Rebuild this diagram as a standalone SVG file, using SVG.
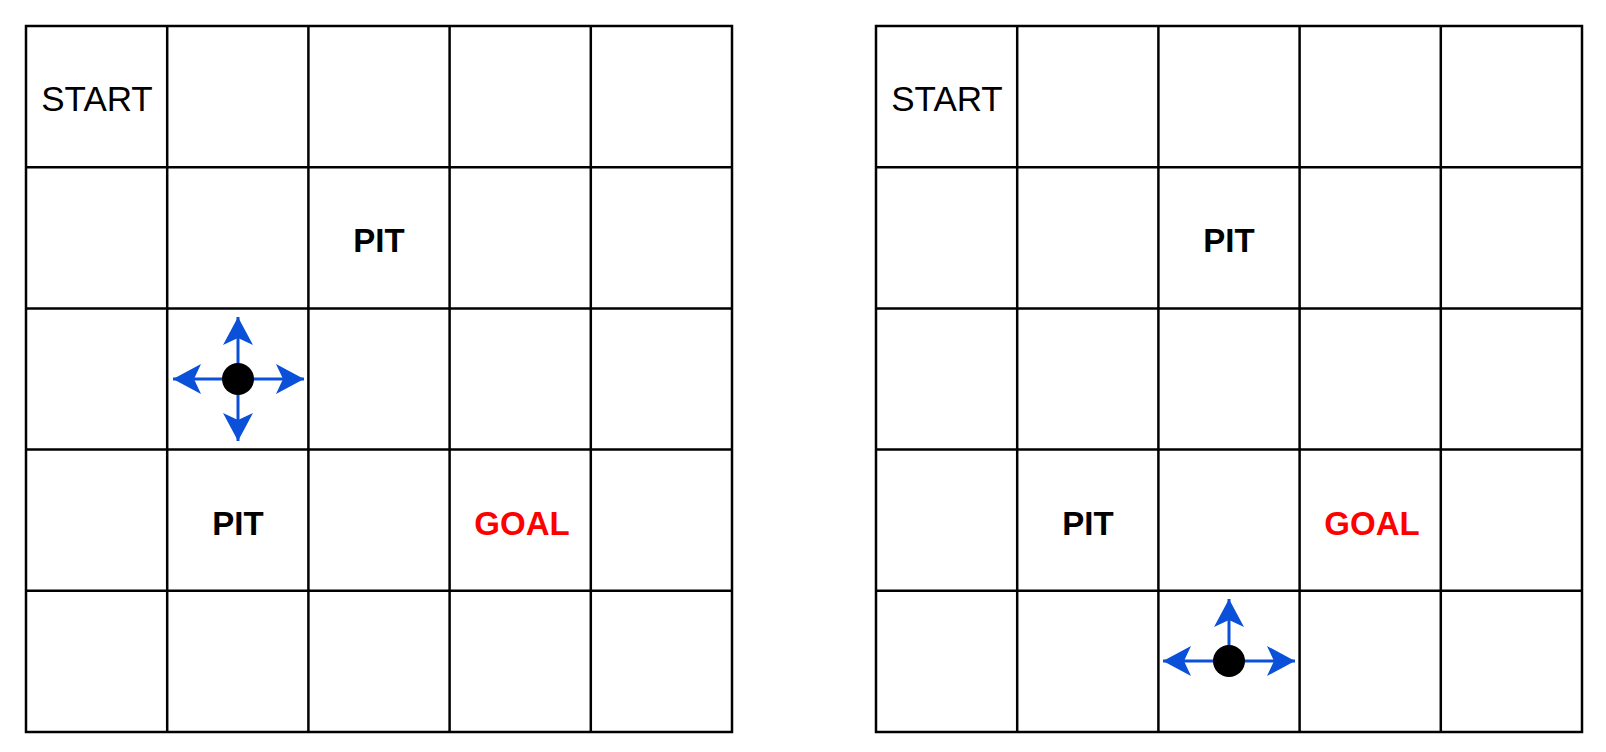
<svg xmlns="http://www.w3.org/2000/svg" width="1606" height="752" viewBox="0 0 1606 752">
<defs>
<style>
.grid line, .grid rect { stroke: #000; stroke-width: 2.5; fill: none; }
.t { font-family: "Liberation Sans", Arial, sans-serif; text-anchor: middle; }
.start { font-size: 35px; fill: #000; }
.pit { font-size: 33px; font-weight: bold; fill: #000; }
.goal { font-size: 33px; font-weight: bold; fill: #ff0000; }
.arr { stroke: #0a50d8; stroke-width: 3; fill: none; }
.dot { fill: #000; }
</style>
<marker id="ah" viewBox="0 0 30 32" markerWidth="30" markerHeight="32" refX="28" refY="16" orient="auto" markerUnits="userSpaceOnUse">
<path d="M28,16 L0,1 L7,16 L0,31 Z" fill="#0a50d8"/>
</marker>
<g id="gridTpl" class="grid">
<rect x="0" y="0" width="706" height="706"/>
<line x1="141.2" y1="0" x2="141.2" y2="706"/>
<line x1="282.4" y1="0" x2="282.4" y2="706"/>
<line x1="423.6" y1="0" x2="423.6" y2="706"/>
<line x1="564.8" y1="0" x2="564.8" y2="706"/>
<line x1="0" y1="141.2" x2="706" y2="141.2"/>
<line x1="0" y1="282.4" x2="706" y2="282.4"/>
<line x1="0" y1="423.6" x2="706" y2="423.6"/>
<line x1="0" y1="564.8" x2="706" y2="564.8"/>
</g>
</defs>
<rect width="1606" height="752" fill="#fff"/>
<g id="grid-left">
<use href="#gridTpl" x="26" y="26"/>
<text class="t start" x="97" y="111">START</text>
<text class="t pit" x="379" y="252">PIT</text>
<text class="t pit" x="238" y="535">PIT</text>
<text class="t goal" x="522" y="535">GOAL</text>
</g>
<g id="grid-right">
<use href="#gridTpl" x="876" y="26"/>
<text class="t start" x="947" y="111">START</text>
<text class="t pit" x="1229" y="252">PIT</text>
<text class="t pit" x="1088" y="535">PIT</text>
<text class="t goal" x="1372" y="535">GOAL</text>
</g>
<g id="connectors">
<line class="arr" x1="238" y1="379" x2="238" y2="317" marker-end="url(#ah)"/>
<line class="arr" x1="238" y1="379" x2="238" y2="441" marker-end="url(#ah)"/>
<line class="arr" x1="238" y1="379" x2="173" y2="379" marker-end="url(#ah)"/>
<line class="arr" x1="238" y1="379" x2="304" y2="379" marker-end="url(#ah)"/>
<line class="arr" x1="1229" y1="661" x2="1229" y2="599" marker-end="url(#ah)"/>
<line class="arr" x1="1229" y1="661" x2="1163" y2="661" marker-end="url(#ah)"/>
<line class="arr" x1="1229" y1="661" x2="1295" y2="661" marker-end="url(#ah)"/>
</g>
<g id="agent-left">
<circle class="dot" cx="238" cy="379" r="16"/>
</g>
<g id="agent-right">
<circle class="dot" cx="1229" cy="661" r="16"/>
</g>
</svg>
